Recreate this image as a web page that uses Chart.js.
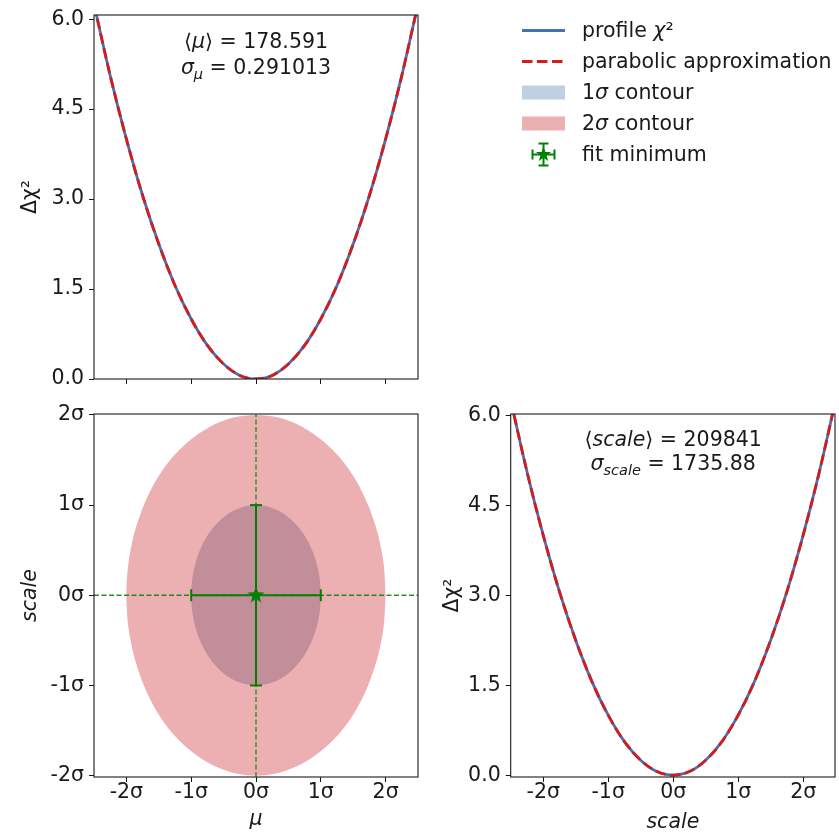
<!DOCTYPE html>
<html lang="en">
<head>
<meta charset="UTF-8">
<title>profile chi2 corner plot</title>
<style>
  body { margin: 0; background: #fff; font-family: 'DejaVu Sans', sans-serif; }
  #wrap { position: relative; width: 839px; height: 835px; }
  #wrap canvas { position: absolute; left: 0; top: 0; }
  .leg { position: absolute; left: 522px; top: 15px; font-size: 20.5px; color: #1a1a1a; }
  .row { position: relative; height: 31px; width: 317px; }
  .row svg { position: absolute; left: 0; top: 0; }
  .row span { position: absolute; left: 60px; top: 0; line-height: 31px; white-space: nowrap; }
</style>
</head>
<body>
<div id="wrap">
  <canvas id="muChart" width="839" height="835"></canvas>
  <canvas id="corrChart" width="839" height="835"></canvas>
  <canvas id="scaleChart" width="839" height="835"></canvas>
  <div class="leg">
    <div class="row"><svg width="43" height="31"><line x1="0" y1="15.5" x2="43" y2="15.5" stroke="#4472b4" stroke-width="2.8"/></svg><span>profile <i>χ</i>²</span></div>
    <div class="row"><svg width="43" height="31"><line x1="0" y1="15.5" x2="43" y2="15.5" stroke="#d41c1c" stroke-width="2.8" stroke-dasharray="10.5 4.5"/></svg><span>parabolic approximation</span></div>
    <div class="row"><svg width="43" height="31"><rect x="0" y="8.5" width="43" height="14" fill="rgb(192,207,226)"/></svg><span>1<i>σ</i> contour</span></div>
    <div class="row"><svg width="43" height="31"><rect x="0" y="8.5" width="43" height="14" fill="rgb(237,176,178)"/></svg><span>2<i>σ</i> contour</span></div>
    <div class="row"><svg width="43" height="31">
      <g stroke="#008000" stroke-width="2">
        <line x1="10.5" y1="15.5" x2="32.5" y2="15.5"/><line x1="10.5" y1="10.5" x2="10.5" y2="20.5"/><line x1="32.5" y1="10.5" x2="32.5" y2="20.5"/>
        <line x1="21.5" y1="4.5" x2="21.5" y2="26.5"/><line x1="16.5" y1="4.5" x2="26.5" y2="4.5"/><line x1="16.5" y1="26.5" x2="26.5" y2="26.5"/>
      </g>
      <polygon fill="#008000" points="21.5,7.5 23.38,12.91 29.11,13.03 24.54,16.49 26.2,21.97 21.5,18.7 16.8,21.97 18.46,16.49 13.89,13.03 19.62,12.91"/>
    </svg><span>fit minimum</span></div>
  </div>
</div>

<script src="https://cdn.jsdelivr.net/npm/chart.js"></script>
<script>
// axis ticks (sigma units / delta chi2)
const sigmaTicks = [-2, -1, 0, 1, 2];
const sigmaLabels = ['-2σ', '-1σ', '0σ', '1σ', '2σ'];
const chi2Ticks = [0, 1.5, 3, 4.5, 6];
const chi2Labels = ['0.0', '1.5', '3.0', '4.5', '6.0'];

// fit results
const muMean = '178.591';
const muSigma = '0.291013';
const scaleMean = '209841';
const scaleSigma = '1735.88';

// delta chi2 scans, x in units of sigma
const scanX = [-2.5, -2.25, -2, -1.75, -1.5, -1.25, -1, -0.75, -0.5, -0.25, 0, 0.25, 0.5, 0.75, 1, 1.25, 1.5, 1.75, 2, 2.25, 2.5];
const muProfile = [6.25, 5.06, 4.0, 3.06, 2.25, 1.56, 1.0, 0.56, 0.25, 0.06, 0.0, 0.06, 0.25, 0.56, 1.0, 1.56, 2.25, 3.06, 4.0, 5.06, 6.25];
const muParabola = [6.25, 5.06, 4.0, 3.06, 2.25, 1.56, 1.0, 0.56, 0.25, 0.06, 0.0, 0.06, 0.25, 0.56, 1.0, 1.56, 2.25, 3.06, 4.0, 5.06, 6.25];
const scaleProfile = [6.25, 5.06, 4.0, 3.06, 2.25, 1.56, 1.0, 0.56, 0.25, 0.06, 0.0, 0.06, 0.25, 0.56, 1.0, 1.56, 2.25, 3.06, 4.0, 5.06, 6.25];
const scaleParabola = [6.25, 5.06, 4.0, 3.06, 2.25, 1.56, 1.0, 0.56, 0.25, 0.06, 0.0, 0.06, 0.25, 0.56, 1.0, 1.56, 2.25, 3.06, 4.0, 5.06, 6.25];

// contour outlines (mu, scale) in sigma units
const c1X = [1, 0.985, 0.94, 0.866, 0.766, 0.643, 0.5, 0.342, 0.174, 0, -0.174, -0.342, -0.5, -0.643, -0.766, -0.866, -0.94, -0.985, -1,
             -0.985, -0.94, -0.866, -0.766, -0.643, -0.5, -0.342, -0.174, 0, 0.174, 0.342, 0.5, 0.643, 0.766, 0.866, 0.94, 0.985, 1];
const c1Y = [0, 0.174, 0.342, 0.5, 0.643, 0.766, 0.866, 0.94, 0.985, 1, 0.985, 0.94, 0.866, 0.766, 0.643, 0.5, 0.342, 0.174, 0,
             -0.174, -0.342, -0.5, -0.643, -0.766, -0.866, -0.94, -0.985, -1, -0.985, -0.94, -0.866, -0.766, -0.643, -0.5, -0.342, -0.174, 0];
const c2X = [2, 1.97, 1.88, 1.73, 1.53, 1.29, 1, 0.68, 0.35, 0, -0.35, -0.68, -1, -1.29, -1.53, -1.73, -1.88, -1.97, -2,
             -1.97, -1.88, -1.73, -1.53, -1.29, -1, -0.68, -0.35, 0, 0.35, 0.68, 1, 1.29, 1.53, 1.73, 1.88, 1.97, 2];
const c2Y = [0, 0.35, 0.68, 1, 1.29, 1.53, 1.73, 1.88, 1.97, 2, 1.97, 1.88, 1.73, 1.53, 1.29, 1, 0.68, 0.35, 0,
             -0.35, -0.68, -1, -1.29, -1.53, -1.73, -1.88, -1.97, -2, -1.97, -1.88, -1.73, -1.53, -1.29, -1, -0.68, -0.35, 0];

// fit minimum and its 1 sigma error bars
const fitX = [0];
const fitY = [0];
const errX = [-1, 1];
const errY = [-1, 1];

const BLUE = '#4472b4', RED = '#d41c1c', GREEN = '#008000', INK = '#1a1a1a';
const FONT = "'DejaVu Sans', sans-serif";

Chart.defaults.font.family = FONT;
Chart.defaults.font.size = 20.5;
Chart.defaults.color = INK;
Chart.defaults.animation = false;
Chart.defaults.plugins.legend.display = false;
Chart.defaults.plugins.tooltip.enabled = false;
Chart.defaults.responsive = false;

const pts = (xs, ys) => xs.map((x, i) => ({ x: x, y: ys[i] }));

function axis(o) {
  return {
    type: 'linear', min: o.min, max: o.max,
    afterBuildTicks: s => { s.ticks = o.ticks.map(v => ({ value: v })); },
    afterFit: s => {
      if (o.width) s.width = o.width;
      if (o.height) s.height = o.height;
      s.paddingTop = s.paddingBottom = s.paddingLeft = s.paddingRight = 0;
    },
    ticks: { display: o.showLabels !== false, autoSkip: false, maxRotation: 0, padding: o.pad,
             font: { lineHeight: 1 }, callback: (v, i) => o.labels[i] },
    grid: { drawOnChartArea: false, tickLength: 5, color: INK, lineWidth: 1 },
    border: { display: false },
    title: o.title ? { display: true, text: o.title, padding: o.tpad,
                       font: { style: o.italic ? 'italic' : 'normal', lineHeight: 1.2 } } : { display: false }
  };
}

// box around every panel
const frame = {
  id: 'frame',
  afterDatasetsDraw(chart) {
    const a = chart.chartArea, c = chart.ctx;
    c.save();
    c.strokeStyle = INK;
    c.lineWidth = 1.1;
    c.strokeRect(a.left, a.top, a.right - a.left, a.bottom - a.top);
    c.restore();
  }
};

// mean / sigma text with italic + subscript runs
const note = {
  id: 'note',
  afterDatasetsDraw(chart, args, opts) {
    if (!opts.lines) return;
    const c = chart.ctx, a = chart.chartArea;
    const cx = chart.scales.x.getPixelForValue(0);
    const fnt = r => (r.i ? 'italic ' : '') + (r.sub ? '14.5px ' : '20.5px ') + FONT;
    c.save();
    c.fillStyle = INK;
    c.textBaseline = 'alphabetic';
    opts.lines.forEach((runs, k) => {
      const y = a.top + opts.top + k * opts.gap;
      let w = 0;
      runs.forEach(r => { c.font = fnt(r); w += c.measureText(r.t).width; });
      let x = cx - w / 2;
      runs.forEach(r => {
        c.font = fnt(r);
        c.fillText(r.t, x, y + (r.sub ? 4.5 : 0));
        x += c.measureText(r.t).width;
      });
    });
    c.restore();
  }
};

function curveSets(profile, parabola) {
  return [
    { label: 'parabolic approximation', data: pts(scanX, parabola), borderColor: RED, borderWidth: 2.8,
      borderDash: [10.5, 4.5], pointRadius: 0, cubicInterpolationMode: 'monotone', clip: 0, order: 0 },
    { label: 'profile χ²', data: pts(scanX, profile), borderColor: BLUE, borderWidth: 2.8,
      pointRadius: 0, cubicInterpolationMode: 'monotone', clip: 0, order: 1 }
  ];
}

// top left: delta chi2 vs mu
new Chart(document.getElementById('muChart'), {
  type: 'line',
  data: { datasets: curveSets(muProfile, muParabola) },
  options: {
    layout: { padding: { left: 0, top: 15, right: 421, bottom: 435 } },
    scales: {
      x: axis({ min: -2.5, max: 2.5, ticks: sigmaTicks, labels: sigmaLabels, height: 21, pad: 0, showLabels: false }),
      y: axis({ min: 0, max: 6.07, ticks: chi2Ticks, labels: chi2Labels, width: 94, pad: 5,
                title: 'Δχ²', tpad: { top: 18 } })
    },
    plugins: {
      note: { top: 33, gap: 26, lines: [
        [{ t: '⟨' }, { t: 'μ', i: 1 }, { t: '⟩' }, { t: ' = ' + muMean }],
        [{ t: 'σ', i: 1 }, { t: 'μ', i: 1, sub: 1 }, { t: ' = ' + muSigma }]
      ] }
    }
  },
  plugins: [frame, note]
});

// star marker for the fit minimum
function starImage(size, color) {
  const cv = document.createElement('canvas');
  cv.width = cv.height = size;
  const g = cv.getContext('2d');
  g.fillStyle = color;
  g.beginPath();
  for (let k = 0; k < 10; k++) {
    const r = k % 2 ? size * 0.2 : size * 0.5;
    const ang = -Math.PI / 2 + k * Math.PI / 5;
    g.lineTo(size / 2 + r * Math.cos(ang), size / 2 + r * Math.sin(ang));
  }
  g.closePath();
  g.fill();
  return cv;
}

const yMinB = -2.015, yMaxB = 2.01;

// bottom left: 2D contours
new Chart(document.getElementById('corrChart'), {
  type: 'line',
  data: {
    datasets: [
      { label: 'fit minimum', data: pts(fitX, fitY), showLine: false, pointStyle: starImage(18, GREEN), order: 0 },
      { data: pts(errX, [fitY[0], fitY[0]]), borderColor: GREEN, borderWidth: 2, pointStyle: 'line', pointRotation: 90,
        pointRadius: 6, pointBorderWidth: 2, pointBorderColor: GREEN, order: 1 },
      { data: pts([fitX[0], fitX[0]], errY), borderColor: GREEN, borderWidth: 2, pointStyle: 'line', pointRotation: 0,
        pointRadius: 6, pointBorderWidth: 2, pointBorderColor: GREEN, order: 1 },
      { data: pts([-2.5, 2.5], [fitY[0], fitY[0]]), borderColor: 'rgba(0,128,0,0.85)', borderWidth: 1.3,
        borderDash: [5, 2.5], pointRadius: 0, order: 2 },
      { data: pts([fitX[0], fitX[0]], [yMinB, yMaxB]), borderColor: 'rgba(0,128,0,0.85)', borderWidth: 1.3,
        borderDash: [5, 2.5], pointRadius: 0, order: 2 },
      { label: '1σ contour', data: pts(c1X, c1Y), borderColor: 'rgba(0,0,0,0)', borderWidth: 0,
        backgroundColor: 'rgb(194,142,154)', fill: 'shape', tension: 0.3, pointRadius: 0, order: 3 },
      { label: '2σ contour', data: pts(c2X, c2Y), borderColor: 'rgba(0,0,0,0)', borderWidth: 0,
        backgroundColor: 'rgb(237,176,178)', fill: 'shape', tension: 0.3, pointRadius: 0, order: 4 }
    ]
  },
  options: {
    layout: { padding: { left: 0, top: 414, right: 421, bottom: 0 } },
    scales: {
      x: axis({ min: -2.5, max: 2.5, ticks: sigmaTicks, labels: sigmaLabels, height: 58, pad: 0,
                title: 'μ', italic: true, tpad: { bottom: 3 } }),
      y: axis({ min: yMinB, max: yMaxB, ticks: sigmaTicks, labels: sigmaLabels, width: 94, pad: 5,
                title: 'scale', italic: true, tpad: { top: 18.5 } })
    }
  },
  plugins: [frame]
});

// bottom right: delta chi2 vs scale
new Chart(document.getElementById('scaleChart'), {
  type: 'line',
  data: { datasets: curveSets(scaleProfile, scaleParabola) },
  options: {
    layout: { padding: { left: 420, top: 414, right: 4, bottom: 0 } },
    scales: {
      x: axis({ min: -2.5, max: 2.49, ticks: sigmaTicks, labels: sigmaLabels, height: 58, pad: 0,
                title: 'scale', italic: true, tpad: { bottom: 0 } }),
      y: axis({ min: -0.03, max: 6.02, ticks: chi2Ticks, labels: chi2Labels, width: 90.7, pad: 5,
                title: 'Δχ²', tpad: { top: 20 } })
    },
    plugins: {
      note: { top: 32, gap: 24, lines: [
        [{ t: '⟨' }, { t: 'scale', i: 1 }, { t: '⟩' }, { t: ' = ' + scaleMean }],
        [{ t: 'σ', i: 1 }, { t: 'scale', i: 1, sub: 1 }, { t: ' = ' + scaleSigma }]
      ] }
    }
  },
  plugins: [frame, note]
});
</script>
</body>
</html>
